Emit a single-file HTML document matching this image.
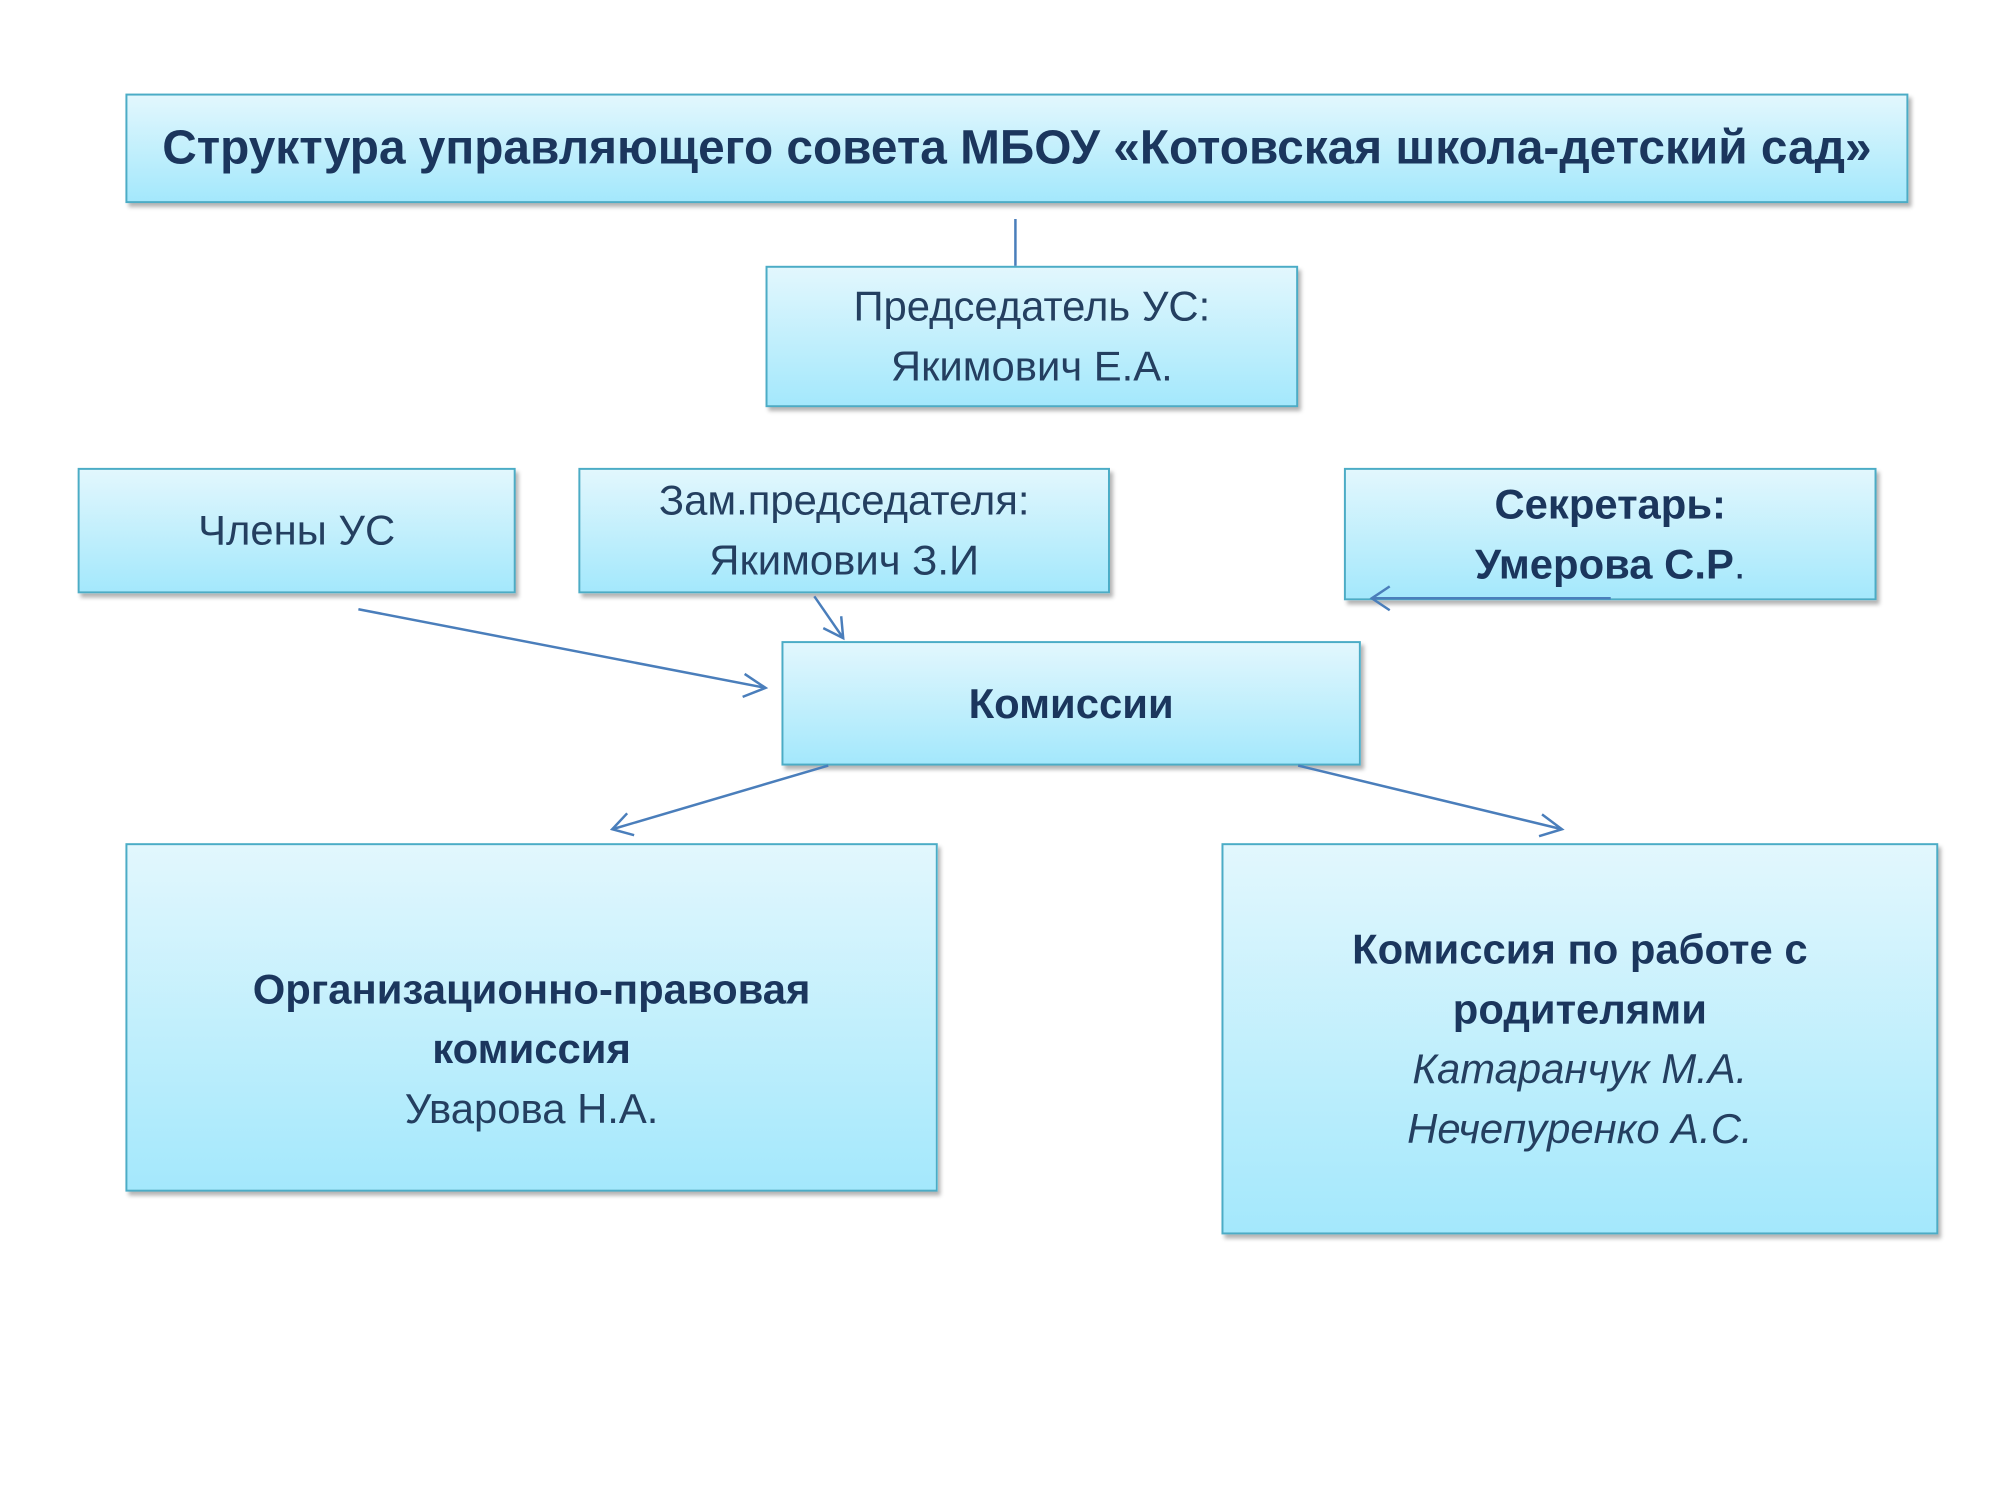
<!DOCTYPE html>
<html><head><meta charset="utf-8"><style>
body{margin:0;width:2000px;height:1500px;background:#fff;position:relative;overflow:hidden;font-family:"Liberation Sans","DejaVu Sans",sans-serif;}
#w{position:absolute;left:0;top:0;width:2000px;height:1500px;transform:scale(0.9955);transform-origin:0 0;}
.b{position:absolute;box-sizing:border-box;border:2px solid #4bacc6;background:linear-gradient(#e2f7fd,#a4e8fc);box-shadow:3px 4px 4px rgba(0,0,0,0.3);display:flex;flex-direction:column;align-items:center;justify-content:center;text-align:center;color:#243f60;font-size:42px;line-height:60px;white-space:nowrap;}
.bd{font-weight:bold;color:#1b365d;}
svg{position:absolute;left:0;top:0;}
</style></head><body><div id="w">
<div class="b bd" style="left:126px;top:94px;width:1791px;height:110px;font-size:48px;">Структура управляющего совета МБОУ «Котовская школа-детский сад»</div>
<div class="b" style="left:769px;top:267px;width:535px;height:142px;"><div>Председатель УС:</div><div>Якимович Е.А.</div></div>
<div class="b" style="left:78px;top:470px;width:440px;height:126px;">Члены УС</div>
<div class="b" style="left:581px;top:470px;width:534px;height:126px;"><div>Зам.председателя:</div><div>Якимович З.И</div></div>
<div class="b bd" style="left:1350px;top:470px;width:535px;height:133px;"><div>Секретарь:</div><div>Умерова С.Р<span style="font-weight:normal">.</span></div></div>
<div class="b bd" style="left:785px;top:644px;width:582px;height:125px;">Комиссии</div>
<div class="b" style="left:126px;top:847px;width:816px;height:350px;padding-top:64px;"><div class="bd">Организационно-правовая</div><div class="bd">комиссия</div><div>Уварова Н.А.</div></div>
<div class="b" style="left:1227px;top:847px;width:720px;height:393px;"><div class="bd">Комиссия по работе с</div><div class="bd">родителями</div><div style="font-style:italic">Катаранчук М.А.</div><div style="font-style:italic">Нечепуренко А.С.</div></div>
<svg width="2000" height="1500" fill="none" stroke="#4a7ebb" stroke-width="2.5">
<line x1="1020" y1="220" x2="1020" y2="267"/>
<line x1="360" y1="612" x2="769" y2="691"/><polyline points="748,677 769,691 746,700"/>
<line x1="818" y1="599" x2="847" y2="641"/><polyline points="845,619 847,641 827,631"/>
<line x1="1618" y1="601" x2="1378" y2="601"/><polyline points="1396,589 1378,601 1396,613"/>
<line x1="832" y1="769" x2="615" y2="833"/><polyline points="630,817 615,833 637,839"/>
<line x1="1304" y1="769" x2="1569" y2="833"/><polyline points="1549,818 1569,833 1546,840"/>
</svg>
</div></body></html>
